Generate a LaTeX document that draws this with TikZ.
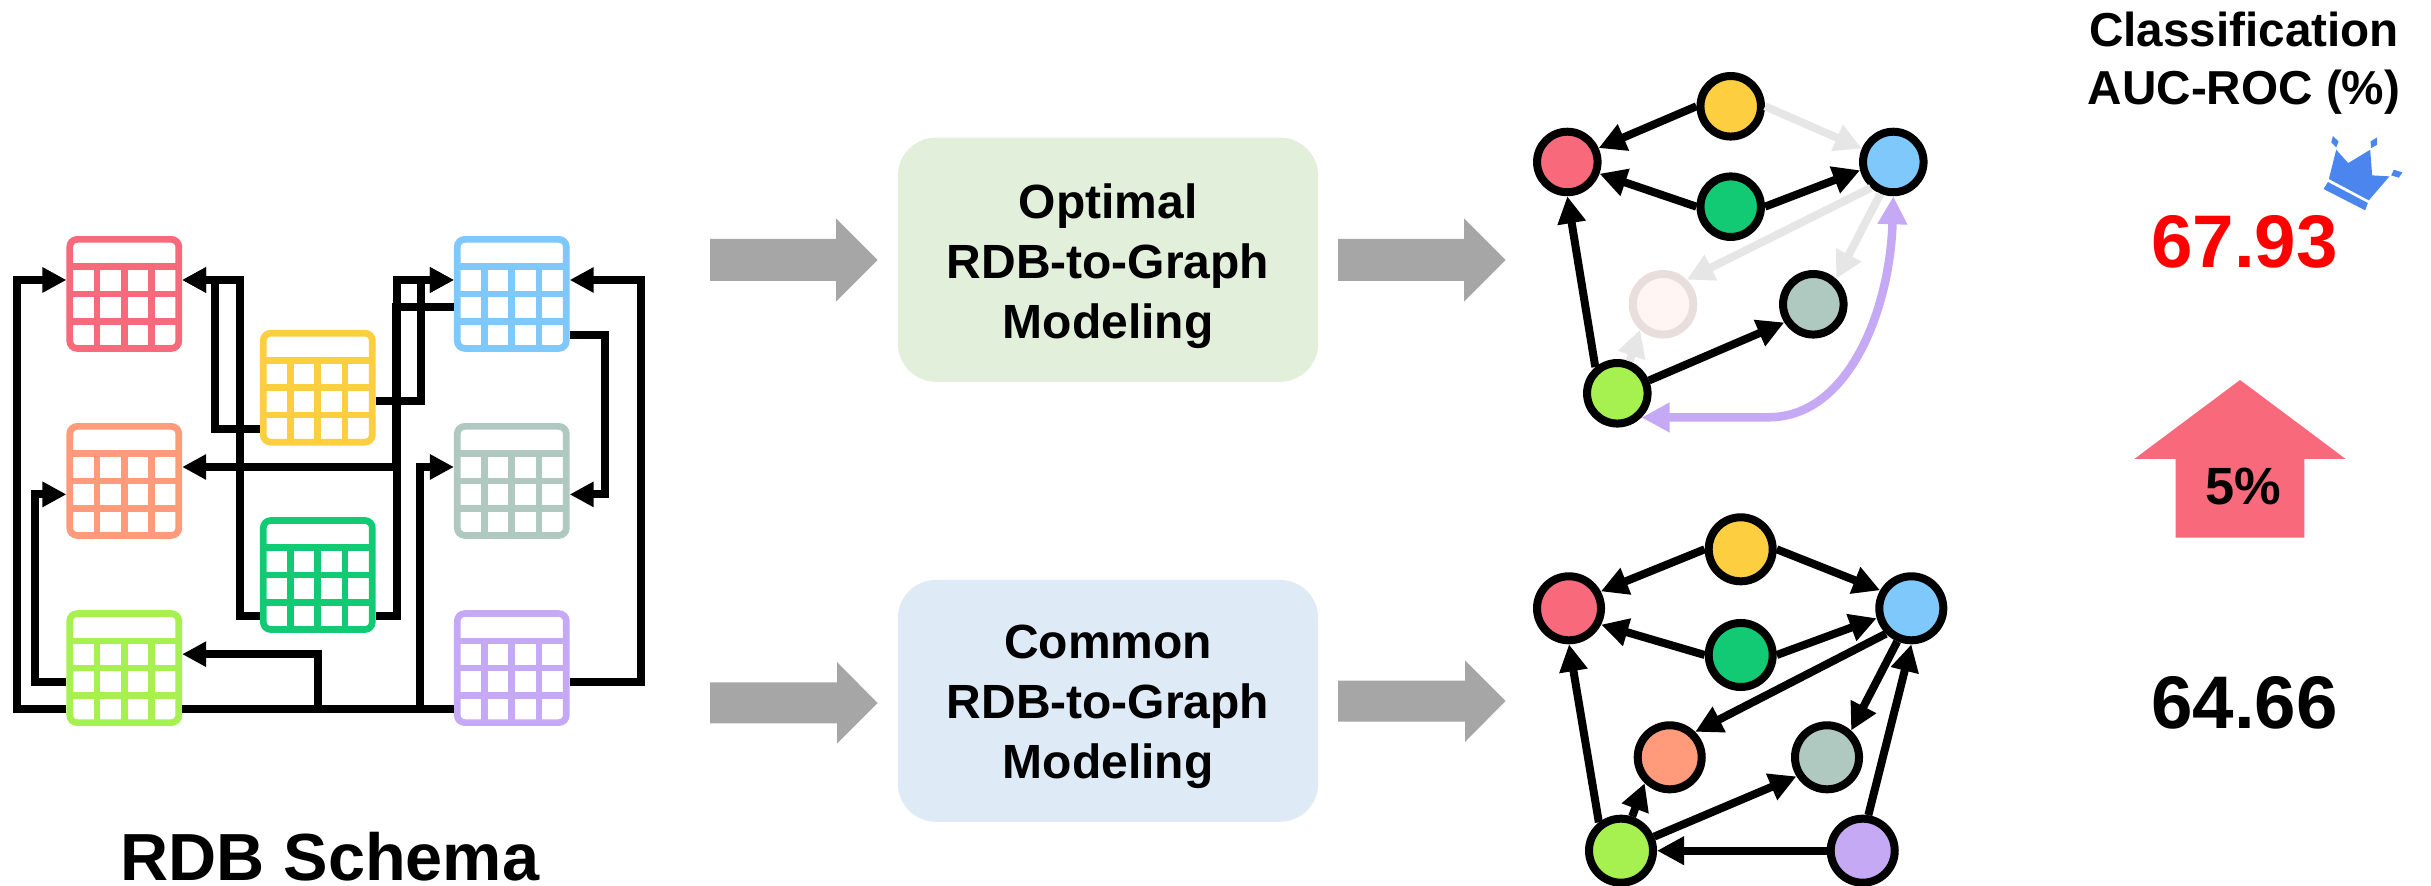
\documentclass[tikz,border=0pt]{standalone}
\usepackage{fontspec}
\setmainfont{Liberation Sans}
\usetikzlibrary{arrows.meta,calc}
\definecolor{cRed}{HTML}{F7697B}
\definecolor{cYel}{HTML}{FDCF40}
\definecolor{cBlu}{HTML}{7EC8FB}
\definecolor{cOra}{HTML}{FF9B7B}
\definecolor{cGry}{HTML}{AFC8C0}
\definecolor{cGrn}{HTML}{12CA74}
\definecolor{cLim}{HTML}{A6F050}
\definecolor{cPur}{HTML}{C6A9F5}
\definecolor{cBoxG}{HTML}{E2EFDA}
\definecolor{cBoxB}{HTML}{DEEAF6}
\definecolor{cArr}{HTML}{A6A6A6}
\definecolor{cFade}{HTML}{E6E6E6}
\definecolor{cCrown}{HTML}{4A86EE}
\tikzset{
  tbl/.style={draw=#1,fill=white,line width=.067cm,rounded corners=.075cm,
    minimum width=1.09cm,minimum height=1.09cm,inner sep=0pt,
    path picture={
      \draw[#1,line width=.067cm] (-60,-27.2) -- (60,-27.2) (-60,0) -- (60,0) (-60,27.4) -- (60,27.4)
        (-27.3,-27.2) -- (-27.3,60) (0,-27.2) -- (0,60) (27.3,-27.2) -- (27.3,60);
    }},
  ra/.style={yshift=.139cm},
  rb/.style={yshift=-.135cm},
  rc/.style={yshift=-.408cm},
  conn/.style={line width=.08cm,-{Triangle[length=.24cm,width=.24cm]}},
  gn/.style={circle,draw=black,fill=#1,line width=.08cm,minimum size=.605cm,inner sep=0pt},
  gnb/.style={circle,draw=black,fill=#1,line width=.08cm,minimum size=.64cm,inner sep=0pt},
  edg/.style={line width=.08cm,-{Triangle[length=.27cm,width=.27cm]}},
  fadeedg/.style={edg,cFade},
  modelbox/.style={fill=#1,rounded corners=.38cm,minimum width=4.2cm,inner sep=0pt},
  boxtxt/.style={font=\fontsize{13.65}{17.07}\selectfont\bfseries,align=center,inner sep=0pt},
  bigarrow/.style={fill=cArr,draw=none},
  lbl/.style={inner sep=0pt,anchor=base,font=\bfseries},
}
\begin{document}
\begin{tikzpicture}[x=.01cm,y=-.01cm]
\useasboundingbox (0,0) rectangle (2431,886);
% schema tables
\node[tbl=cRed] (tRed) at (124.3,293.9) {};
\node[tbl=cBlu] (tBlu) at (511.8,293.9) {};
\node[tbl=cYel] (tYel) at (317.8,387.7) {};
\node[tbl=cOra] (tOra) at (124.3,480.9) {};
\node[tbl=cGry] (tGry) at (511.8,480.9) {};
\node[tbl=cGrn] (tGrn) at (317.8,575) {};
\node[tbl=cLim] (tLim) at (124.3,668.1) {};
\node[tbl=cPur] (tPur) at (511.8,668.1) {};
% schema connectors
\draw[conn] ([rc]tLim.west) -- ++(-49.5,0) |- ([ra]tRed.west);
\draw[conn] ([rb]tLim.west) -- ++(-31.5,0) |- ([rb]tOra.west);
\draw[conn] ([rc]tYel.west) -- ++(-45,0) |- ([ra]tRed.east);
\draw[conn] ([rc]tGrn.west) -- ++(-20,0) |- ([ra]tRed.east);
\draw[conn] ([rb]tBlu.west) -- ++(-58,0) |- ([ra]tOra.east);
\draw[conn] ([rc]tGrn.east) -- ++(21,0) |- ([ra]tBlu.west);
\draw[conn] ([rb]tYel.east) -- ++(45.5,0) |- ([ra]tBlu.west);
\draw[conn] ([rc]tLim.east) -- ++(238,0) |- ([ra]tGry.west);
\draw[conn] ([rc]tPur.west) -- ++(-136,0) |- ([ra]tLim.east);
\draw[conn] ([rb]tPur.east) -- ++(71.5,0) |- ([ra]tBlu.east);
\draw[conn] ([rc]tBlu.east) -- ++(35.5,0) |- ([rb]tGry.east);
\node[lbl,font=\fontsize{18.95}{22}\selectfont\bfseries] (schemaLabel) at (330,880) {RDB Schema};
% grey arrows
\fill[bigarrow] (710,239) -- (836,239) -- (836,218.3) -- (877.5,260) -- (836,301.7) -- (836,281) -- (710,281) -- cycle;
\fill[bigarrow] (1338,239) -- (1464,239) -- (1464,218.3) -- (1505.5,260) -- (1464,301.7) -- (1464,281) -- (1338,281) -- cycle;
\fill[bigarrow] (710,682.3) -- (837,682.3) -- (837,662) -- (877.5,703) -- (837,743.7) -- (837,723.3) -- (710,723.3) -- cycle;
\fill[bigarrow] (1338,680.7) -- (1465,680.7) -- (1465,660.3) -- (1505.5,701) -- (1465,742) -- (1465,721.7) -- (1338,721.7) -- cycle;
% model boxes
\node[modelbox=cBoxG,minimum height=2.44cm] (boxOpt) at (1108,259.7) {};
\node[modelbox=cBoxB,minimum height=2.417cm] (boxCom) at (1108,700.85) {};
\node[boxtxt] (txtOpt) at (1108,266.5) {Optimal\\RDB-to-Graph\\Modeling};
\node[boxtxt] (txtCom) at (1108,707) {Common\\RDB-to-Graph\\Modeling};
% optimal graph
\node[gn=cYel] (aY) at (1730.7,106.3) {};
\node[gn=cRed] (aR) at (1567.3,162) {};
\node[gn=cGrn] (aG) at (1730.7,206.7) {};
\node[gn=cBlu] (aB) at (1893.3,162) {};
\node[circle,draw=cFade!90!cOra,fill=cOra!10,line width=.08cm,minimum size=.605cm,inner sep=0pt] (aO) at (1663,304.3) {};
\node[gn=cGry] (aS) at (1813.3,304.3) {};
\node[gn=cLim] (aL) at (1617.3,393.3) {};
\draw[fadeedg] (aY.0) -- (aB.157);
\draw[fadeedg] (aB.229) -- (aO.46);
\draw[fadeedg] (aB.248) -- (aS.48);
\draw[fadeedg] (aL.69) -- (aO.228);
\draw[edg] (aY.180) -- (aR.24);
\draw[edg] (aG.180) -- (aR.-20);
\draw[edg] (aG.0) -- (aB.194);
\draw[edg] (aL.22) -- (aS.212);
\draw[edg] (aL.130) -- (aR.270);
\draw[cPur,line width=.085cm,{Triangle[length=.28cm,width=.28cm]}-{Triangle[length=.28cm,width=.28cm]}]
  (aL.-45) -- (1768.3,417.3) .. controls (1850,417.3) and (1890,307) .. (aB.270);
% common graph
\node[gnb=cYel] (bY) at (1740.7,549.3) {};
\node[gnb=cRed] (bR) at (1569,608.3) {};
\node[gnb=cGrn] (bG) at (1740.7,655) {};
\node[gnb=cBlu] (bB) at (1911.3,608.3) {};
\node[gnb=cOra] (bO) at (1669.7,757.3) {};
\node[gnb=cGry] (bS) at (1827,757.3) {};
\node[gnb=cLim] (bL) at (1621,850.7) {};
\node[gnb=cPur] (bP) at (1862.7,850.7) {};
\draw[edg] (bY.180) -- (bR.28);
\draw[edg] (bG.180) -- (bR.-27);
\draw[edg] (bY.0) -- (bB.150);
\draw[edg] (bG.0) -- (bB.196);
\draw[edg] (bB.225) -- (bO.45);
\draw[edg] (bB.247) -- (bS.48);
\draw[edg] (bP.81) -- (bB.270);
\draw[edg] (bP.180) -- (bL.0);
\draw[edg] (bL.23) -- (bS.212);
\draw[edg] (bL.72) -- (bO.226);
\draw[edg] (bL.128) -- (bR.270);
% right column
\node[boxtxt,font=\fontsize{13.55}{16.6}\selectfont\bfseries] (txtAuc) at (2244,63.3) {Classification\\AUC-ROC (\%)};
\begin{scope}[shift={(2050,0)},x=.003333cm,y=-.003333cm]
\fill[cCrown] (860,450) -- (896,490) -- (962,450) -- (968,527) -- (1020,530) -- (958,602) -- (838,538) -- cycle;
\fill[cCrown] (835,547) -- (955,610) -- (947,632) -- (822,568) -- cycle;
\fill[cCrown] (850,409) -- (867,425) -- (860,443) -- (845,428) -- cycle;
\fill[cCrown] (963,425) -- (983,413) -- (983,435) -- (965,445) -- cycle;
\fill[cCrown] (1033,510) -- (1059,518) -- (1048,534) -- (1025,527) -- cycle;
\end{scope}
\node[lbl,font=\fontsize{21.2}{24}\selectfont\bfseries,text=red] (valOpt) at (2244.5,267.7) {67.93};
\fill[cRed] (2240,380) -- (2345.7,459) -- (2304.3,459) -- (2304.3,537.7) -- (2175.7,537.7) -- (2175.7,459) -- (2134.3,459) -- cycle;
\node[lbl,font=\fontsize{14.9}{17}\selectfont\bfseries] (valGain) at (2243,505) {5\%};
\node[lbl,font=\fontsize{21.2}{24}\selectfont\bfseries] (valCom) at (2244.5,729) {64.66};
\end{tikzpicture}
\end{document}
